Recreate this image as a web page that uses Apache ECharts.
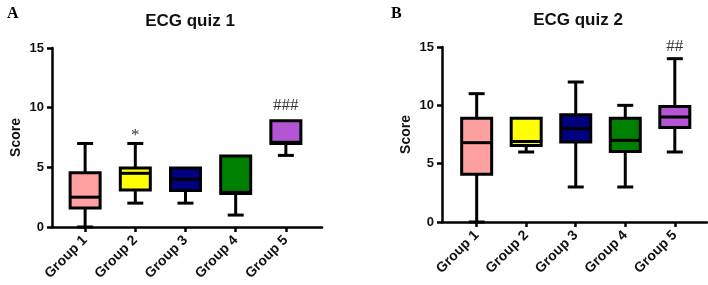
<!DOCTYPE html>
<html>
<head>
<meta charset="utf-8">
<script src="https://cdn.jsdelivr.net/npm/echarts@6/dist/echarts.min.js"></script>
<style>
html, body { margin: 0; padding: 0; background: #fff; }
#main { width: 708px; height: 285px; }
</style>
</head>
<body>
<div id="main"></div>
<script>
// groups and their box colours
const groups = ['Group 1', 'Group 2', 'Group 3', 'Group 4', 'Group 5'];
const boxColors = ['#ffa0a0', '#ffff00', '#000080', '#008000', '#b455d6'];
const yTicks = [0, 5, 10, 15];

// [x, min, Q1, median, Q3, max]
const quiz1 = [
    [1, 0, 1.6, 2.5, 4.55, 7],
    [2, 2, 3.1, 4.5, 4.95, 7],
    [3, 2, 3.05, 4, 4.95, 4.95],
    [4, 1, 2.8, 2.9, 5.95, 5.95],
    [5, 6, 7.0, 7.1, 8.9, 8.9]
];
const quiz2 = [
    [1, 0, 4.1, 6.8, 8.9, 11],
    [2, 6, 6.55, 6.9, 8.9, 8.9],
    [3, 3, 6.85, 8, 9.2, 12],
    [4, 3, 6.05, 7, 8.9, 10],
    [5, 6, 8.1, 9, 9.9, 14]
];
// significance marks [x, y, text]
const marks1 = [[2, 7.7, '*'], [5, 10.2, '###']];
const marks2 = [[5, 15.0, '##']];

const chart = echarts.init(document.getElementById('main'));

function renderBox(params, api) {
    const x = api.value(0);
    const pMin = api.coord([x, api.value(1)]);
    const pQ1 = api.coord([x, api.value(2)]);
    const pMed = api.coord([x, api.value(3)]);
    const pQ3 = api.coord([x, api.value(4)]);
    const pMax = api.coord([x, api.value(5)]);
    const half = 15, cap = 8;
    const line = { stroke: '#000', lineWidth: 3 };
    const cx = pMed[0];
    const kids = [];
    if (pMax[1] < pQ3[1] - 1) {
        kids.push({ type: 'line', shape: { x1: cx, y1: pMax[1], x2: cx, y2: pQ3[1] }, style: line });
        kids.push({ type: 'line', shape: { x1: cx - cap, y1: pMax[1], x2: cx + cap, y2: pMax[1] }, style: line });
    }
    if (pMin[1] > pQ1[1] + 1) {
        kids.push({ type: 'line', shape: { x1: cx, y1: pQ1[1], x2: cx, y2: pMin[1] }, style: line });
        kids.push({ type: 'line', shape: { x1: cx - cap, y1: pMin[1], x2: cx + cap, y2: pMin[1] }, style: line });
    }
    kids.push({
        type: 'rect',
        shape: { x: cx - half, y: pQ3[1], width: half * 2, height: pQ1[1] - pQ3[1] },
        style: { fill: boxColors[params.dataIndex], stroke: '#000', lineWidth: 3 }
    });
    kids.push({ type: 'line', shape: { x1: cx - half, y1: pMed[1], x2: cx + half, y2: pMed[1] }, style: line });
    return { type: 'group', children: kids };
}

function xAxisOpt(idx, min, max) {
    return {
        type: 'value', gridIndex: idx, min: min, max: max,
        axisLine: { show: true, onZero: false, lineStyle: { color: '#000', width: 2.5 } },
        axisTick: { show: true, customValues: [1, 2, 3, 4, 5], length: 5, lineStyle: { color: '#000', width: 2.5 } },
        axisLabel: {
            show: true, customValues: [1, 2, 3, 4, 5], rotate: 45, margin: 11,
            fontFamily: 'Liberation Sans', fontWeight: 'bold', fontSize: 14, color: '#111',
            formatter: v => groups[Math.round(v) - 1]
        },
        splitLine: { show: false }
    };
}

function yAxisOpt(idx) {
    return {
        type: 'value', gridIndex: idx, min: 0, max: 15, interval: 5,
        name: 'Score', nameLocation: 'middle', nameGap: 29, nameRotate: 90,
        nameTextStyle: { fontFamily: 'Liberation Sans', fontWeight: 'bold', fontSize: 14, color: '#111' },
        axisLine: { show: true, onZero: false, lineStyle: { color: '#000', width: 2.5 } },
        axisTick: { show: true, length: 5, lineStyle: { color: '#000', width: 2.5 } },
        axisLabel: {
            fontFamily: 'Liberation Sans', fontWeight: 'bold', fontSize: 13, color: '#111', margin: 8,
            customValues: yTicks
        },
        splitLine: { show: false }
    };
}

function markSeries(idx, data) {
    return {
        type: 'scatter', xAxisIndex: idx, yAxisIndex: idx, symbolSize: 0, silent: true, clip: false,
        data: data,
        label: {
            show: true, position: 'inside', formatter: p => p.data[2],
            fontFamily: 'Liberation Serif', fontSize: 17, color: '#000'
        }
    };
}

chart.setOption({
    animation: false,
    title: [
        { text: 'A', left: 2, top: 1, textStyle: { fontFamily: 'Liberation Serif', fontWeight: 'bold', fontSize: 16, color: '#000' } },
        { text: 'B', left: 386, top: 1, textStyle: { fontFamily: 'Liberation Serif', fontWeight: 'bold', fontSize: 16, color: '#000' } },
        { text: 'ECG quiz 1', left: 185, top: 8, textAlign: 'center', textStyle: { fontFamily: 'Liberation Sans', fontWeight: 'bold', fontSize: 17, color: '#111' } },
        { text: 'ECG quiz 2', left: 573, top: 7, textAlign: 'center', textStyle: { fontFamily: 'Liberation Sans', fontWeight: 'bold', fontSize: 17, color: '#111' } }
    ],
    grid: [
        { left: 52, top: 48, width: 270, height: 179 },
        { left: 442, top: 47, width: 265, height: 175 }
    ],
    xAxis: [xAxisOpt(0, 0.34, 5.72), xAxisOpt(1, 0.3, 5.65)],
    yAxis: [yAxisOpt(0), yAxisOpt(1)],
    series: [
        { type: 'custom', xAxisIndex: 0, yAxisIndex: 0, renderItem: renderBox, data: quiz1, clip: false, silent: true },
        { type: 'custom', xAxisIndex: 1, yAxisIndex: 1, renderItem: renderBox, data: quiz2, clip: false, silent: true },
        markSeries(0, marks1),
        markSeries(1, marks2)
    ]
});
</script>
</body>
</html>
